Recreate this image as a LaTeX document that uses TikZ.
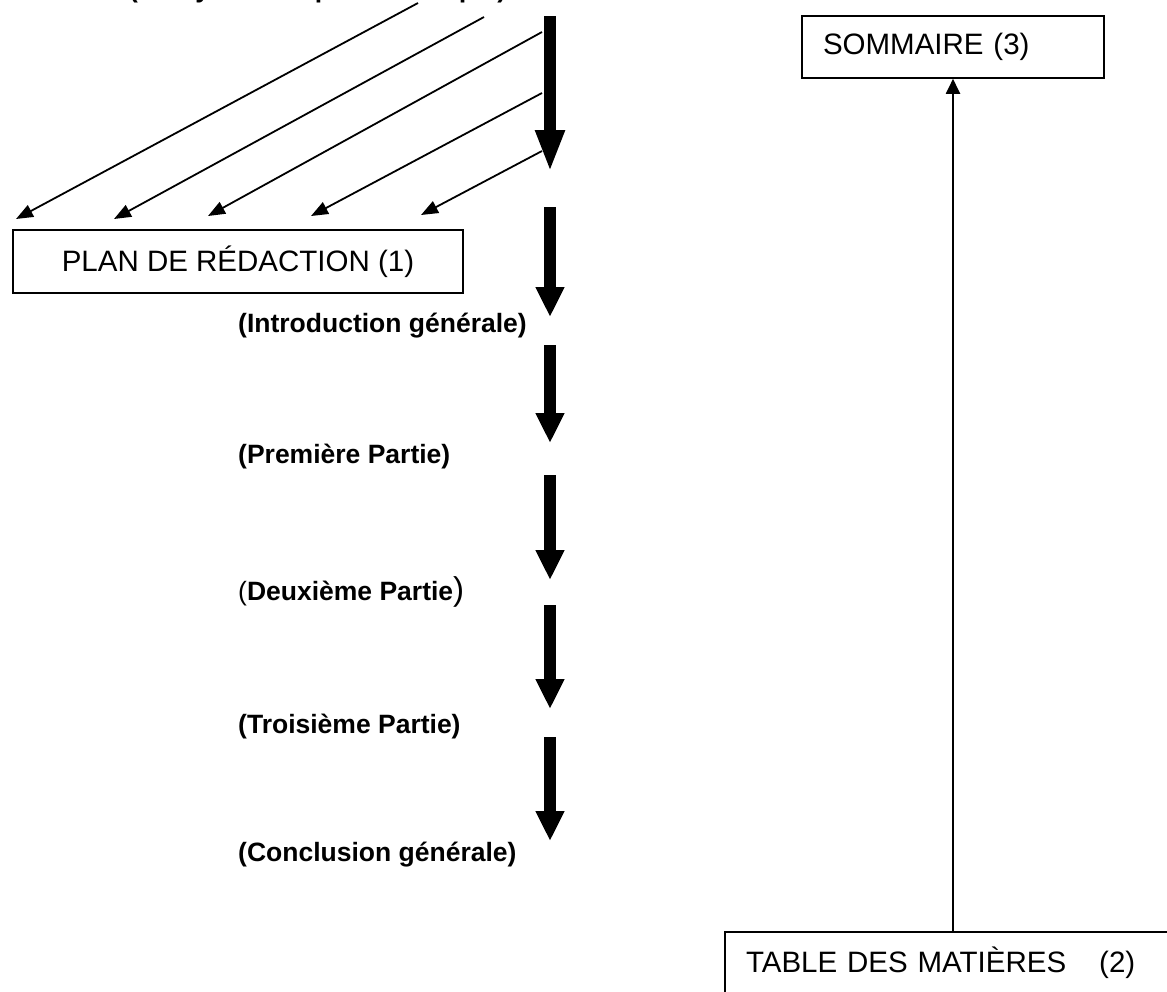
\documentclass[tikz,border=0pt]{standalone}
\usepackage{fontspec}
\setmainfont{Liberation Sans}
\usetikzlibrary{arrows.meta}
\tikzset{
  box/.style={draw, line width=1.6pt, font=\fontsize{29.5}{35}\selectfont, inner ysep=0pt},
  lbl/.style={font=\bfseries\fontsize{26.5}{32}\selectfont, inner sep=0pt},
  bigarrow/.style={line width=12.5pt, -{Triangle[length=30pt,width=27pt]}},
  diag/.style={line width=1.8pt, -{Triangle[length=17pt,width=13pt]}},
  thinarrow/.style={line width=2pt, -{Triangle[length=15pt,width=14pt]}}
}
\begin{document}
\begin{tikzpicture}[x=1pt,y=-1pt]
\clip (0,0) rectangle (1167,991);
% cut-off heading at the top
\node[lbl, anchor=base west] (head) at (129,-2.5) {(Analyse de la problématique)};
% boxes
\node[box, minimum width=450pt, minimum height=63pt] (plan) at (238,261.5) {PLAN DE RÉDACTION (1)};
\node[box, text width=260pt, align=left, inner xsep=21pt, minimum height=62pt] (som) at (953,47) {SOMMAIRE (3)};
\node[box, text width=414pt, align=left, inner xsep=21pt, minimum height=62pt] (tab) at (953,963) {TABLE DES MATIÈRES\hspace*{33pt}(2)};
% labels
\node[lbl, anchor=west] (intro) at (238,326) {(Introduction générale)};
\node[lbl, anchor=west] (prem) at (238,457) {(Première Partie)};
\node[lbl, anchor=west] (deux) at (238,592) {{\mdseries(}Deuxième Partie{\mdseries\fontsize{33}{36}\selectfont)}};
\node[lbl, anchor=west] (trois) at (238,727) {(Troisième Partie)};
\node[lbl, anchor=west] (concl) at (238,855) {(Conclusion générale)};
% diagonal arrows
\coordinate (d1s) at (418,3);   \coordinate (d1e) at (16,219);
\coordinate (d2s) at (484,17);  \coordinate (d2e) at (114,219);
\coordinate (d3s) at (542,32);  \coordinate (d3e) at (208,216);
\coordinate (d4s) at (542,93);  \coordinate (d4e) at (311,216);
\coordinate (d5s) at (542,151); \coordinate (d5e) at (421,215);
\draw[diag] (d1s) -- (d1e);
\draw[diag] (d2s) -- (d2e);
\draw[diag] (d3s) -- (d3e);
\draw[diag] (d4s) -- (d4e);
\draw[diag] (d5s) -- (d5e);
% thick arrows
\coordinate (a1s) at (550,16);  \coordinate (a1e) at (550,172);
\coordinate (a2s) at (550,207); \coordinate (a2e) at (550,317);
\coordinate (a3s) at (550,345); \coordinate (a3e) at (550,443);
\coordinate (a4s) at (550,475); \coordinate (a4e) at (550,580);
\coordinate (a5s) at (550,605); \coordinate (a5e) at (550,709);
\coordinate (a6s) at (550,737); \coordinate (a6e) at (550,841);
\draw[line width=12.5pt, -{Triangle[length=42pt,width=27pt]}] (a1s) -- (a1e);
\draw[bigarrow] (a2s) -- (a2e);
\draw[bigarrow] (a3s) -- (a3e);
\draw[bigarrow] (a4s) -- (a4e);
\draw[bigarrow] (a5s) -- (a5e);
\draw[bigarrow] (a6s) -- (a6e);
% table -> sommaire
\draw[thinarrow] (tab.north) -- (som.south);
\end{tikzpicture}
\end{document}
